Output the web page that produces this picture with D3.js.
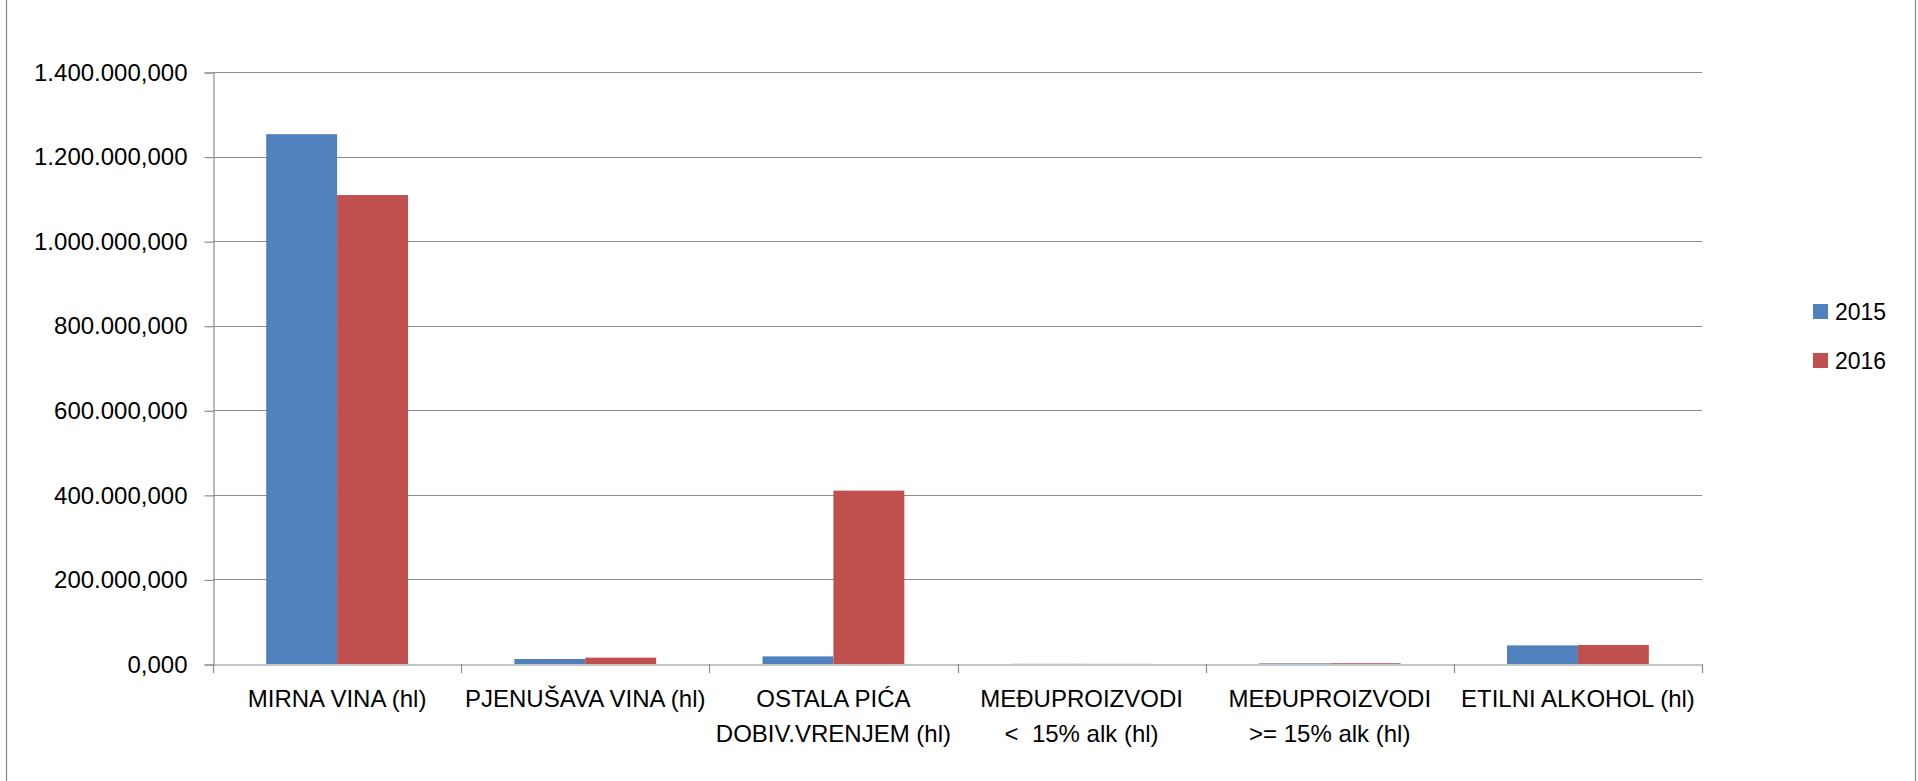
<!DOCTYPE html>
<html>
<head>
<meta charset="utf-8">
<script src="https://cdn.jsdelivr.net/npm/d3@7"></script>
<style>
  body { margin: 0; background: #fff; }
  svg text { font-family: 'Liberation Sans', Arial, sans-serif; fill: #000; }
</style>
</head>
<body>
<svg class="chartSVG" width="1918" height="781"></svg>
<script>
// data (hl)
const categories = [
  'MIRNA VINA (hl)',
  'PJENUŠAVA VINA (hl)',
  'OSTALA PIĆA DOBIV.VRENJEM (hl)',
  'MEĐUPROIZVODI <  15% alk (hl)',
  'MEĐUPROIZVODI >= 15% alk (hl)',
  'ETILNI ALKOHOL (hl)'
];
const tickLabels = [
  ['MIRNA VINA (hl)'],
  ['PJENUŠAVA VINA (hl)'],
  ['OSTALA PIĆA', 'DOBIV.VRENJEM (hl)'],
  ['MEĐUPROIZVODI', '<  15% alk (hl)'],
  ['MEĐUPROIZVODI', '>= 15% alk (hl)'],
  ['ETILNI ALKOHOL (hl)']
];
const seriesNames = ['2015', '2016'];
const values2015 = [1253000, 11800, 18000, 400, 1500, 44000];
const values2016 = [1109000, 15000, 410000, 300, 1800, 45000];
const yTicks = [0, 200000, 400000, 600000, 800000, 1000000, 1200000, 1400000];

function drawChart(){
  const svg = d3.select('svg.chartSVG');
  const margin = {left: 213, right: 1702, top: 72, bottom: 664};
  const gridColor = '#8c8c8c';

  const hr = d3.formatLocale({decimal: ',', thousands: '.', grouping: [3], currency: ['', '']});
  const fmt = hr.format(',.3f');

  const colScale = d3.scaleOrdinal()
    .domain(seriesNames)
    .range(['#4f81bd', '#c0504d']);

  const x = d3.scaleBand()
    .domain(categories)
    .range([margin.left, margin.right])
    .paddingInner(0)
    .paddingOuter(0);

  const xSub = d3.scaleBand()
    .domain(seriesNames)
    .range([0, x.bandwidth()])
    .paddingInner(0)
    .paddingOuter(0.75);

  const y = d3.scaleLinear()
    .domain([0, 1400000])
    .range([margin.bottom, margin.top]);

  // outer chart frame
  svg.append('line')
    .attr('x1', 6.5).attr('x2', 6.5).attr('y1', 0).attr('y2', 781)
    .style('stroke', '#888').style('stroke-width', 1.2);
  svg.append('line')
    .attr('x1', 1915.5).attr('x2', 1915.5).attr('y1', 0).attr('y2', 781)
    .style('stroke', '#888').style('stroke-width', 1.2);

  // gridlines
  svg.append('g')
    .selectAll('line')
    .data(yTicks.filter(d => d > 0))
    .enter()
    .append('line')
    .attr('x1', margin.left)
    .attr('x2', margin.right)
    .attr('y1', d => Math.round(y(d)) + 0.5)
    .attr('y2', d => Math.round(y(d)) + 0.5)
    .style('stroke', gridColor)
    .style('stroke-width', 1.2);

  // bars
  const series = [values2015, values2016];
  svg.append('g')
    .selectAll('g')
    .data(series)
    .enter()
    .append('g')
    .style('fill', (d, i) => colScale(seriesNames[i]))
    .selectAll('rect')
    .data((d, i) => d.map((v, j) => ({cat: categories[j], s: seriesNames[i], v: v})))
    .enter()
    .append('rect')
    .attr('x', d => x(d.cat) + xSub(d.s))
    .attr('width', xSub.bandwidth())
    .attr('y', d => y(d.v))
    .attr('height', d => y(0) - y(d.v));

  // y axis
  const yAxis = d3.axisLeft(y)
    .tickValues(yTicks)
    .tickSize(9)
    .tickPadding(17)
    .tickFormat(fmt);
  const yG = svg.append('g')
    .attr('transform', `translate(${margin.left + 0.5},0.5)`)
    .call(yAxis);
  yG.select('.domain').style('stroke', gridColor).style('stroke-width', 1.2);
  yG.selectAll('.tick line').style('stroke', gridColor).style('stroke-width', 1.2);
  yG.selectAll('.tick text')
    .style('font-size', '24px')
    .style('font-family', "'Liberation Sans', Arial, sans-serif")
    .style('fill', '#000');

  // x axis
  const xAxis = d3.axisBottom(x)
    .tickSize(0)
    .tickFormat('');
  const xG = svg.append('g')
    .attr('transform', `translate(0,${margin.bottom + 0.5})`)
    .call(xAxis);
  xG.select('.domain').style('stroke', gridColor).style('stroke-width', 1.2);

  // category boundary ticks
  const edges = categories.map(c => x(c)).concat([margin.right]);
  svg.append('g')
    .selectAll('line')
    .data(edges)
    .enter()
    .append('line')
    .attr('x1', d => Math.round(d) + 0.5)
    .attr('x2', d => Math.round(d) + 0.5)
    .attr('y1', margin.bottom)
    .attr('y2', margin.bottom + 9)
    .style('stroke', gridColor)
    .style('stroke-width', 1.2);

  // category labels
  svg.append('g')
    .selectAll('text')
    .data(categories)
    .enter()
    .append('text')
    .attr('text-anchor', 'middle')
    .style('font-size', '24px')
    .style('white-space', 'pre')
    .each(function(d, i){
      const t = d3.select(this);
      tickLabels[i].forEach((line, k) => {
        t.append('tspan')
          .attr('x', x(d) + x.bandwidth() / 2)
          .attr('y', 707 + k * 35)
          .text(line);
      });
    });

  // legend
  const legend = svg.append('g')
    .attr('class', 'legend')
    .attr('transform', 'translate(1813,304)');
  const item = legend.selectAll('g')
    .data(seriesNames)
    .enter()
    .append('g')
    .attr('transform', (d, i) => `translate(0,${i * 49})`);
  item.append('rect')
    .attr('width', 15)
    .attr('height', 15)
    .style('fill', d => colScale(d));
  item.append('text')
    .attr('x', 22)
    .attr('y', 16)
    .style('font-size', '23px')
    .text(d => d);
}

drawChart();
</script>
</body>
</html>
